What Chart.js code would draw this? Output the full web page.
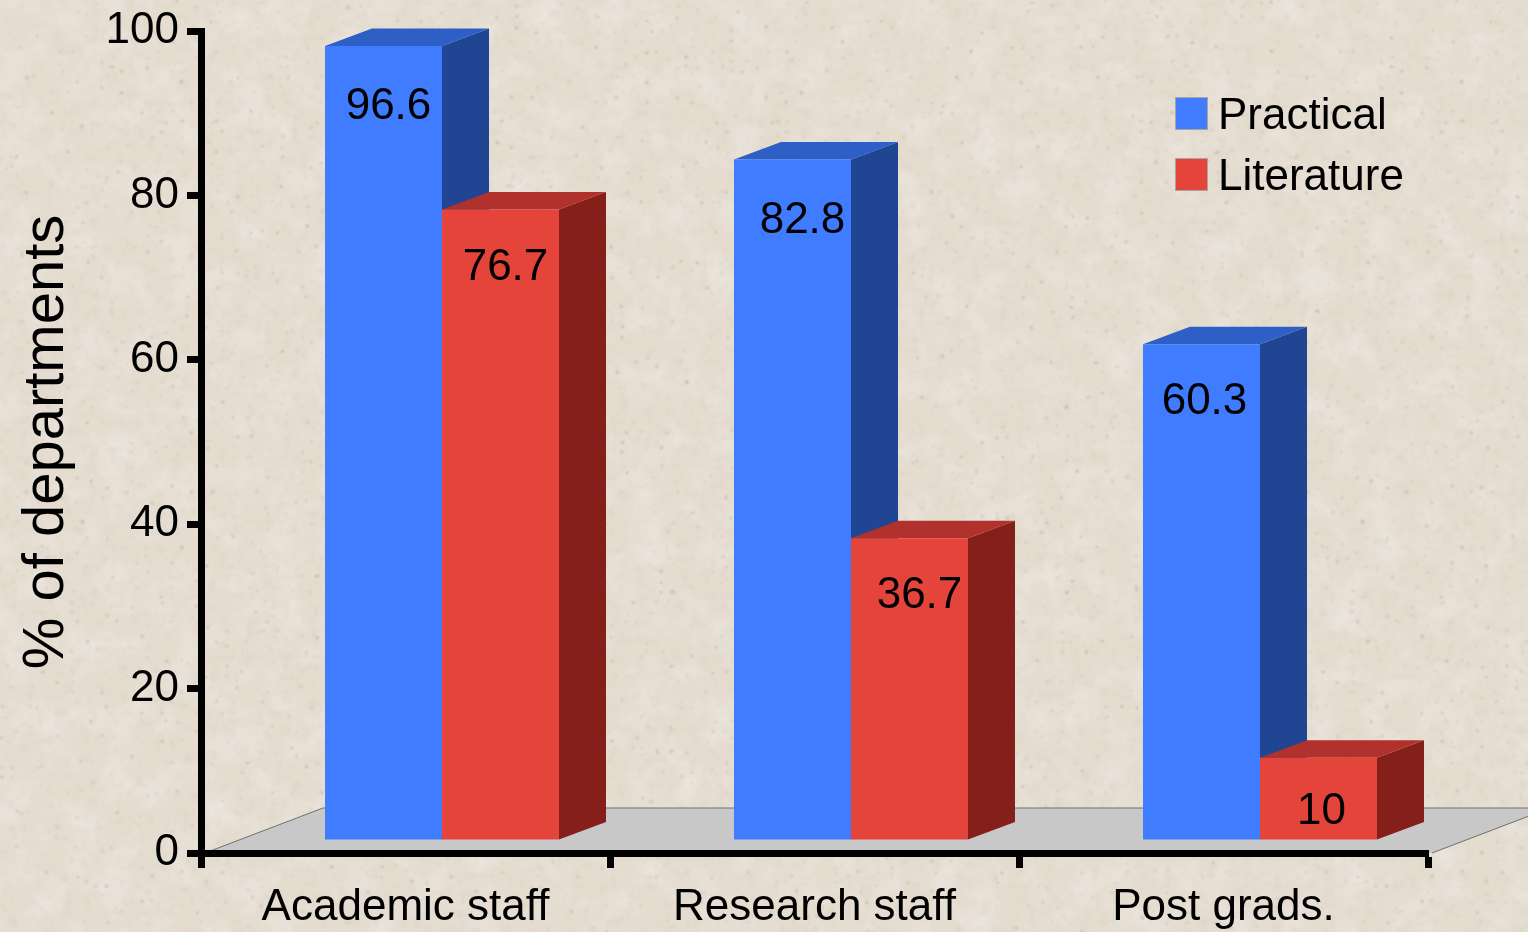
<!DOCTYPE html>
<html>
<head>
<meta charset="utf-8">
<title>% of departments</title>
<script src="https://cdn.jsdelivr.net/npm/chart.js@4"></script>
<style>
  html, body { margin: 0; padding: 0; background: #e4dccf; overflow: hidden; }
  #paper, #chart { position: absolute; left: 0; top: 0; display: block; }
</style>
</head>
<body>
<!-- speckled paper backdrop -->
<svg id="paper" width="1528" height="932" xmlns="http://www.w3.org/2000/svg">
  <defs>
    <filter id="mottle" x="0" y="0" width="100%" height="100%">
      <feTurbulence type="fractalNoise" baseFrequency="0.03" numOctaves="4" seed="7"/>
      <feColorMatrix values="0 0 0 0 0.90  0 0 0 0 0.85  0 0 0 0 0.84  1.5 0 0 0 -0.62"/>
    </filter>
    <filter id="grain" x="0" y="0" width="100%" height="100%">
      <feTurbulence type="fractalNoise" baseFrequency="0.11" numOctaves="3" seed="21"/>
      <feColorMatrix values="0 0 0 0 0.66  0 0 0 0 0.61  0 0 0 0 0.52  0 3.2 0 0 -1.7"/>
      <feGaussianBlur stdDeviation="0.8"/>
    </filter>
    <filter id="specks" x="0" y="0" width="100%" height="100%">
      <feTurbulence type="fractalNoise" baseFrequency="0.2" numOctaves="2" seed="4"/>
      <feColorMatrix values="0 0 0 0 0.38  0 0 0 0 0.34  0 0 0 0 0.28  0 0 11 0 -8.1"/>
      <feGaussianBlur stdDeviation="0.8"/>
    </filter>
  </defs>
  <rect width="1528" height="932" fill="#e4dccf"/>
  <rect width="1528" height="932" filter="url(#mottle)" opacity="0.7"/>
  <rect width="1528" height="932" filter="url(#grain)" opacity="0.35"/>
  <rect width="1528" height="932" filter="url(#specks)" opacity="0.65"/>
</svg>
<canvas id="chart" width="1528" height="932"></canvas>
<script>
const categories = ['Academic staff', 'Research staff', 'Post grads.'];
const practical = [96.6, 82.8, 60.3];
const literature = [76.7, 36.7, 10];
const yTicks = [0, 20, 40, 60, 80, 100];

const BLUE = { front: '#3f7cff', top: '#2e5fc6', side: '#1f4593' };
const RED  = { front: '#e5443b', top: '#b1312c', side: '#841f1a' };
const FONT = "'Liberation Sans', Arial, sans-serif";

// bars stand on the floor, a little in front of the axis line
const BAR_SHIFT = { x: 36.5, y: -13 };
const BAR_DEPTH = { x: 47, y: -17.5 };
const FLOOR_DEPTH = { x: 118, y: -45 };

// hand placement of the value labels: [dx from bar centre, dy from bar top]
const labelNudge = [
  [[5, 61], [10, 61], [3, 58]],
  [[5, 58], [10, 58], [3, 54]],
];

function poly(ctx, pts, fill) {
  ctx.beginPath();
  pts.forEach((p, i) => (i ? ctx.lineTo(p[0], p[1]) : ctx.moveTo(p[0], p[1])));
  ctx.closePath();
  ctx.fillStyle = fill;
  ctx.fill();
}

const floorPlugin = {
  id: 'floor',
  beforeDraw(chart) {
    const { ctx, chartArea: a } = chart;
    const backY = a.bottom + FLOOR_DEPTH.y;
    const l = a.left + 4, r = a.right + 4;
    ctx.save();
    poly(ctx, [[l, a.bottom], [l + FLOOR_DEPTH.x, backY], [r + FLOOR_DEPTH.x, backY], [r, a.bottom]], '#c8c8c8');
    ctx.strokeStyle = '#6f6f6f';
    ctx.lineWidth = 1;
    ctx.beginPath();
    ctx.moveTo(l, a.bottom);
    ctx.lineTo(l + FLOOR_DEPTH.x, backY);
    ctx.lineTo(r + FLOOR_DEPTH.x, backY);
    ctx.lineTo(r, a.bottom);
    ctx.stroke();
    ctx.restore();
  },
};

// side and top faces go down first, the library then paints the front faces
const barBlockPlugin = {
  id: 'barBlock',
  beforeDatasetsDraw(chart) {
    const { ctx } = chart;
    ctx.save();
    ctx.translate(BAR_SHIFT.x, BAR_SHIFT.y);
    chart.data.datasets.forEach((ds, d) => {
      chart.getDatasetMeta(d).data.forEach((bar) => {
        const l = bar.x - bar.width / 2, r = bar.x + bar.width / 2;
        const dx = BAR_DEPTH.x, dy = BAR_DEPTH.y;
        poly(ctx, [[r, bar.y], [r + dx, bar.y + dy], [r + dx, bar.base + dy], [r, bar.base]], ds.sideColor);
        poly(ctx, [[l, bar.y], [l + dx, bar.y + dy], [r + dx, bar.y + dy], [r, bar.y]], ds.topColor);
      });
    });
  },
  afterDatasetsDraw(chart) {
    const { ctx } = chart;
    ctx.font = '44px ' + FONT;
    ctx.fillStyle = '#000';
    ctx.textAlign = 'center';
    ctx.textBaseline = 'middle';
    chart.data.datasets.forEach((ds, d) => {
      chart.getDatasetMeta(d).data.forEach((bar, i) => {
        const n = labelNudge[d][i];
        ctx.fillText(String(ds.data[i]), bar.x + n[0], bar.y + n[1]);
      });
    });
    ctx.restore();
  },
};

const legendPlugin = {
  id: 'cornerLegend',
  afterDraw(chart) {
    const { ctx } = chart;
    ctx.save();
    ctx.font = '44px ' + FONT;
    ctx.textAlign = 'left';
    ctx.textBaseline = 'middle';
    chart.data.datasets.forEach((ds, i) => {
      const y = 97 + i * 61;
      ctx.fillStyle = ds.backgroundColor;
      ctx.fillRect(1175.5, y + 0.5, 32, 32);
      ctx.strokeStyle = '#a9a59e';
      ctx.lineWidth = 1;
      ctx.strokeRect(1175.5, y + 0.5, 32, 32);
      ctx.fillStyle = '#000';
      ctx.fillText(ds.label, 1218, y + 20);
    });
    ctx.restore();
  },
};

new Chart(document.getElementById('chart'), {
  type: 'bar',
  data: {
    labels: categories,
    datasets: [
      { label: 'Practical', data: practical, backgroundColor: BLUE.front, topColor: BLUE.top, sideColor: BLUE.side },
      { label: 'Literature', data: literature, backgroundColor: RED.front, topColor: RED.top, sideColor: RED.side },
    ],
  },
  options: {
    responsive: false,
    animation: false,
    layout: { padding: { top: 31, right: 100, left: 0, bottom: 0 } },
    datasets: { bar: { categoryPercentage: 234 / 409, barPercentage: 1, clip: false } },
    plugins: { legend: { display: false }, tooltip: { enabled: false } },
    scales: {
      x: {
        afterFit(scale) { scale.height = 79; },
        grid: { drawOnChartArea: false, tickLength: 15, tickWidth: 7, tickColor: '#000', offset: true },
        border: { display: true, color: '#000', width: 7 },
        ticks: { color: '#000', font: { family: FONT, size: 44 }, padding: 13, maxRotation: 0, autoSkip: false },
      },
      y: {
        min: 0,
        max: 100,
        afterFit(scale) {
          scale.width = 201;
          scale.paddingTop = 0;
          scale.paddingBottom = 0;
        },
        afterBuildTicks(scale) { scale.ticks = yTicks.map((value) => ({ value })); },
        title: {
          display: true,
          text: '% of departments',
          color: '#000',
          font: { family: FONT, size: 58, lineHeight: 1 },
          padding: { top: 18, bottom: 0 },
        },
        grid: { drawOnChartArea: false, tickLength: 14, tickWidth: 7, tickColor: '#000' },
        border: { display: true, color: '#000', width: 7 },
        ticks: { color: '#000', font: { family: FONT, size: 44 }, padding: 8 },
      },
    },
  },
  plugins: [floorPlugin, barBlockPlugin, legendPlugin],
});
</script>
</body>
</html>
